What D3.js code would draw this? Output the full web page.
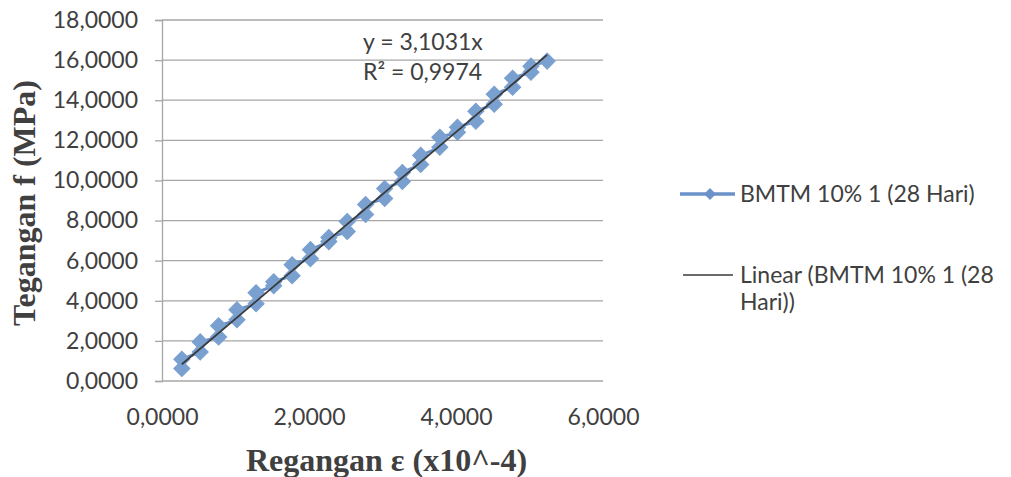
<!DOCTYPE html>
<html>
<head>
<meta charset="utf-8">
<script src="https://cdn.jsdelivr.net/npm/d3@7"></script>
<style>
  body { margin: 0; background: #fff; }
  svg { display: block; }
</style>
</head>
<body>
<div id="chart"></div>
<script>
// strain (x10^-4) and stress (MPa)
var strain = [0.27, 0.27, 0.52, 0.52, 0.77, 0.77, 1.02, 1.02, 1.28, 1.28,
  1.52, 1.52, 1.77, 1.77, 2.02, 2.02, 2.27, 2.27, 2.52, 2.52,
  2.77, 2.77, 3.03, 3.03, 3.27, 3.27, 3.52, 3.52, 3.78, 3.78,
  4.02, 4.02, 4.27, 4.27, 4.52, 4.52, 4.77, 4.77, 5.02, 5.02, 5.24];
var stress = [0.62, 1.08, 1.45, 1.95, 2.2, 2.75, 3.05, 3.55, 3.85, 4.4,
  4.75, 4.95, 5.25, 5.8, 6.1, 6.55, 6.95, 7.15, 7.45, 7.95,
  8.3, 8.8, 9.1, 9.6, 9.95, 10.4, 10.8, 11.25, 11.65, 12.15,
  12.4, 12.65, 12.95, 13.45, 13.8, 14.3, 14.65, 15.1, 15.4, 15.7, 15.95];
var xTicks = [0, 2, 4, 6];
var yTicks = [0, 2, 4, 6, 8, 10, 12, 14, 16, 18];
var trendSlope = 3.1031;
var trendLabel = ["y = 3,1031x", "R² = 0,9974"];
var seriesName = "BMTM 10% 1 (28 Hari)";
var trendName = ["Linear (BMTM 10% 1 (28", "Hari))"];
var xTitle = "Regangan ε (x10^-4)";
var yTitle = "Tegangan f (MPa)";

var width = 1011, height = 477;
var margin = { top: 20, right: 408, bottom: 96, left: 162 };
var blue = "#7aa0d0", lineBlue = "#6a92c8", textCol = "#404040", gridCol = "#a6a6a6";
var sans = "Lato, 'Open Sans', sans-serif", serif = "'Liberation Serif', 'Times New Roman', serif";

var locale = d3.formatLocale({ decimal: ",", thousands: ".", grouping: [3], currency: ["", ""] });
var fmt = locale.format(".4f");

var data = strain.map(function(d, i) { return { x: d, y: stress[i] }; });

var x = d3.scaleLinear().domain([0, 6]).range([margin.left, width - margin.right]);
var y = d3.scaleLinear().domain([0, 18]).range([height - margin.bottom, margin.top]);

var svg = d3.select("#chart").append("svg")
  .attr("width", width).attr("height", height)
  .style("font-family", sans);

// gridlines
svg.append("g").selectAll("line").data(yTicks).enter().append("line")
  .attr("x1", x(0)).attr("x2", x(6))
  .attr("y1", function(d) { return y(d); }).attr("y2", function(d) { return y(d); })
  .attr("stroke", gridCol).attr("stroke-width", 1.3);

// y axis
var yAxis = svg.append("g")
  .attr("transform", "translate(" + x(0) + ",0)")
  .call(d3.axisLeft(y).tickValues(yTicks).tickFormat(fmt).tickSize(7).tickPadding(17));
yAxis.select(".domain").attr("stroke", gridCol).attr("stroke-width", 1.3);
yAxis.selectAll(".tick line").attr("stroke", gridCol).attr("stroke-width", 1.3);
yAxis.selectAll("text").attr("fill", textCol).style("font-size", "23px").style("font-family", sans);

// x axis labels (axis line is the zero gridline)
var xAxis = svg.append("g")
  .attr("transform", "translate(0," + y(0) + ")")
  .call(d3.axisBottom(x).tickValues(xTicks).tickFormat(fmt).tickSize(0).tickPadding(28));
xAxis.select(".domain").remove();
xAxis.selectAll("text").attr("fill", textCol).style("font-size", "23px").style("font-family", sans);

// series line + markers
var line = d3.line().x(function(d) { return x(d.x); }).y(function(d) { return y(d.y); });
svg.append("path").datum(data)
  .attr("d", line).attr("fill", "none")
  .attr("stroke", lineBlue).attr("stroke-width", 3);

var diamond = d3.symbol().type(d3.symbolSquare).size(130);
svg.append("g").selectAll("path").data(data).enter().append("path")
  .attr("d", diamond)
  .attr("transform", function(d) { return "translate(" + x(d.x) + "," + y(d.y) + ") rotate(45)"; })
  .attr("fill", blue).attr("stroke", blue).attr("stroke-width", 1);

// trend line
var xr = d3.extent(strain);
svg.append("line")
  .attr("x1", x(xr[0])).attr("y1", y(trendSlope * xr[0]))
  .attr("x2", x(xr[1])).attr("y2", y(trendSlope * xr[1]))
  .attr("stroke", "#3a3a3a").attr("stroke-width", 1.8);

// trend equation
svg.append("g").selectAll("text").data(trendLabel).enter().append("text")
  .attr("x", 363).attr("y", function(d, i) { return 50 + i * 30; })
  .attr("fill", textCol).style("font-size", "23px")
  .text(function(d) { return d; });

// axis titles
svg.append("text")
  .attr("x", (x(0) + x(6)) / 2 + 4).attr("y", 471)
  .attr("text-anchor", "middle")
  .style("font-family", serif)
  .style("font-weight", "bold").style("font-size", "32px")
  .attr("fill", textCol).text(xTitle);

svg.append("text")
  .attr("transform", "translate(35,203) rotate(-90)")
  .attr("text-anchor", "middle")
  .style("font-family", serif)
  .style("font-weight", "bold").style("font-size", "32px")
  .attr("fill", textCol).text(yTitle);

// legend
var lg = svg.append("g");
lg.append("line").attr("x1", 680).attr("x2", 735).attr("y1", 194).attr("y2", 194)
  .attr("stroke", lineBlue).attr("stroke-width", 3.5);
lg.append("path").attr("d", d3.symbol().type(d3.symbolSquare).size(70))
  .attr("transform", "translate(710,194) rotate(45)").attr("fill", lineBlue);
lg.append("text").attr("x", 740).attr("y", 202)
  .attr("fill", textCol).style("font-size", "23px").text(seriesName);

lg.append("line").attr("x1", 683).attr("x2", 733).attr("y1", 275).attr("y2", 275)
  .attr("stroke", "#3a3a3a").attr("stroke-width", 1.5);
lg.selectAll("text.t").data(trendName).enter().append("text")
  .attr("class", "t")
  .attr("x", 740).attr("y", function(d, i) { return 283 + i * 27; })
  .attr("fill", textCol).style("font-size", "23px").text(function(d) { return d; });
</script>
</body>
</html>
